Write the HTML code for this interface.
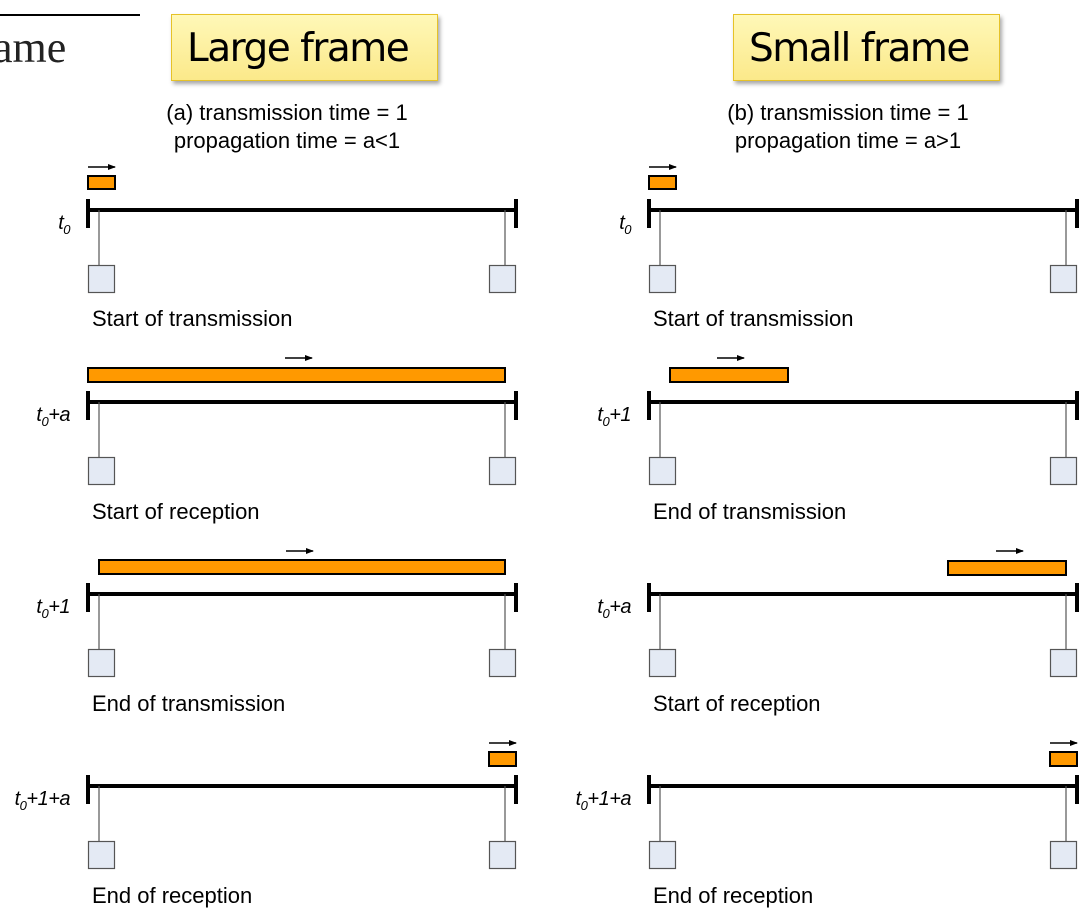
<!DOCTYPE html>
<html><head><style>
body{margin:0;width:1090px;height:908px;background:#fff;overflow:hidden;position:relative;font-family:"Liberation Sans",sans-serif}
.a{position:absolute}
.tb{position:absolute;top:14px;width:267px;height:67px;border:1.5px solid #e6c228;background:linear-gradient(#fff8b8,#fbe98a);box-shadow:2px 3px 4px rgba(0,0,0,.35);font-size:39px;line-height:67px;padding-left:15px;box-sizing:border-box;color:#000;font-family:"DejaVu Sans","Liberation Sans",sans-serif;letter-spacing:-1.5px}
.sub{position:absolute;width:320px;text-align:center;font-size:22px;line-height:28px;top:99px}
.lab{position:absolute;font-size:22px}
.t{position:absolute;font-size:20px;font-style:italic;text-align:right;width:80px;letter-spacing:-0.5px}
</style></head><body>
<div class="a" style="left:0;top:14px;width:140px;height:2px;background:#000"></div>
<div class="a" style="left:-7px;top:22px;font-family:'Liberation Serif',serif;font-size:44px;color:#222">ame</div>
<div class="tb" style="left:171px">Large frame</div>
<div class="tb" style="left:733px">Small frame</div>
<div class="sub" style="left:127px">(a) transmission time = 1<br>propagation time = a&lt;1</div>
<div class="sub" style="left:688px">(b) transmission time = 1<br>propagation time = a&gt;1</div>
<svg class="a" style="left:0;top:0" width="1090" height="908">
<defs><marker id="ar" markerWidth="8" markerHeight="8" refX="7" refY="4" orient="auto" markerUnits="userSpaceOnUse"><path d="M0,1 L8,4 L0,7z" fill="#000"/></marker>
<g id="bus">
<line x1="88" y1="0" x2="516" y2="0" stroke="#000" stroke-width="4"/>
<line x1="88" y1="-11" x2="88" y2="18" stroke="#000" stroke-width="4"/>
<line x1="516" y1="-11" x2="516" y2="18" stroke="#000" stroke-width="4"/>
<line x1="99" y1="0" x2="99" y2="55" stroke="#555" stroke-width="1.2"/>
<line x1="505" y1="0" x2="505" y2="55" stroke="#555" stroke-width="1.2"/>
<rect x="88.5" y="55.5" width="26" height="27" fill="#e4eaf4" stroke="#555" stroke-width="1.2"/>
<rect x="489.5" y="55.5" width="26" height="27" fill="#e4eaf4" stroke="#555" stroke-width="1.2"/>
</g></defs>
<g fill="#ff9900" stroke="#000" stroke-width="2">
<use href="#bus" y="210"/><use href="#bus" y="402"/><use href="#bus" y="594"/><use href="#bus" y="786"/>
<use href="#bus" x="561" y="210"/><use href="#bus" x="561" y="402"/><use href="#bus" x="561" y="594"/><use href="#bus" x="561" y="786"/>
<rect x="88" y="176" width="27" height="13"/>
<rect x="88" y="368" width="417" height="14"/>
<rect x="99" y="560" width="406" height="14"/>
<rect x="489" y="752" width="27" height="14"/>
<rect x="649" y="176" width="27" height="13"/>
<rect x="670" y="368" width="118" height="14"/>
<rect x="948" y="561" width="118" height="14"/>
<rect x="1050" y="752" width="27" height="14"/>
</g>
<g stroke="#000" stroke-width="1.5" marker-end="url(#ar)">
<line x1="88" y1="167" x2="115" y2="167"/>
<line x1="285" y1="358" x2="312" y2="358"/>
<line x1="286" y1="551" x2="313" y2="551"/>
<line x1="489" y1="743" x2="516" y2="743"/>
<line x1="649" y1="167" x2="676" y2="167"/>
<line x1="717" y1="358" x2="744" y2="358"/>
<line x1="996" y1="551" x2="1023" y2="551"/>
<line x1="1050" y1="743" x2="1077" y2="743"/>
</g>
</svg>
<div class="t" style="left:-10px;top:212px">t<sub style="font-size:13px">0</sub></div>
<div class="t" style="left:-10px;top:404px">t<sub style="font-size:13px">0</sub>+a</div>
<div class="t" style="left:-10px;top:596px">t<sub style="font-size:13px">0</sub>+1</div>
<div class="t" style="left:-10px;top:788px">t<sub style="font-size:13px">0</sub>+1+a</div>
<div class="t" style="left:551px;top:212px">t<sub style="font-size:13px">0</sub></div>
<div class="t" style="left:551px;top:404px">t<sub style="font-size:13px">0</sub>+1</div>
<div class="t" style="left:551px;top:596px">t<sub style="font-size:13px">0</sub>+a</div>
<div class="t" style="left:551px;top:788px">t<sub style="font-size:13px">0</sub>+1+a</div>
<div class="lab" style="left:92px;top:306px">Start of transmission</div>
<div class="lab" style="left:92px;top:499px">Start of reception</div>
<div class="lab" style="left:92px;top:691px">End of transmission</div>
<div class="lab" style="left:92px;top:883px">End of reception</div>
<div class="lab" style="left:653px;top:306px">Start of transmission</div>
<div class="lab" style="left:653px;top:499px">End of transmission</div>
<div class="lab" style="left:653px;top:691px">Start of reception</div>
<div class="lab" style="left:653px;top:883px">End of reception</div>
</body></html>
